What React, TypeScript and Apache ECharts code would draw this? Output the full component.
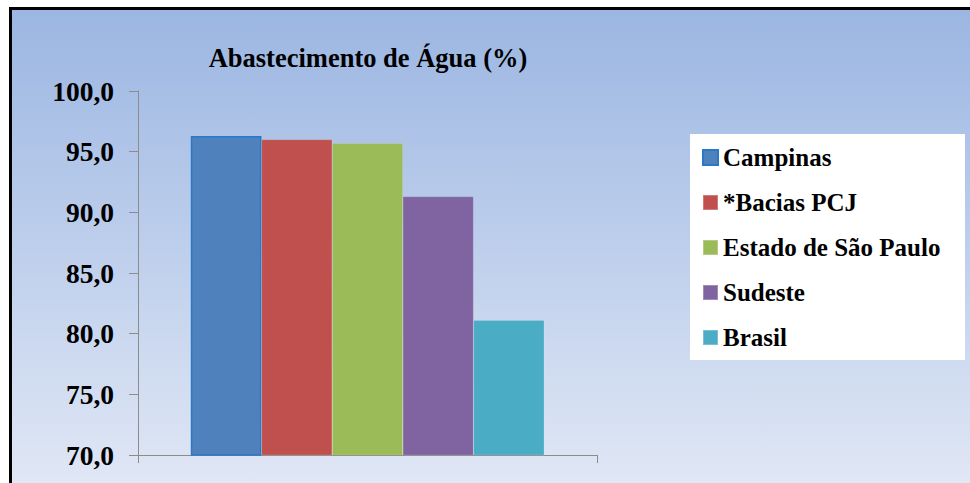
import React, { useEffect, useRef } from "react";
import * as echarts from "echarts";

const categories = ["Abastecimento de Água"];
const seriesNames = ["Campinas", "*Bacias PCJ", "Estado de São Paulo", "Sudeste", "Brasil"];
const seriesValues = [96.3, 96.0, 95.7, 91.3, 81.1];
const seriesColors = ["#4f81bd", "#c0504d", "#9bbb59", "#8064a2", "#4bacc6"];
const yTicks = [70, 75, 80, 85, 90, 95, 100];
const titleText = "Abastecimento de Água (%)";

const FONT = "'Liberation Serif', 'Times New Roman', serif";

export default function App() {
  const ref = useRef<HTMLDivElement>(null);
  useEffect(() => {
    if (!ref.current) return;
    const chart = echarts.init(ref.current, undefined, { renderer: "svg" });
    const yMin = yTicks[0];
    const yMax = yTicks[yTicks.length - 1];
    const interval = yTicks[1] - yTicks[0];
    chart.setOption({
      animation: false,
      backgroundColor: "#ffffff",
      title: {
        text: titleText,
        left: 368,
        top: 44,
        textAlign: "center",
        padding: 0,
        textStyle: { fontFamily: FONT, fontWeight: "bold", fontSize: 26.5, color: "#000" },
      },
      graphic: [
        {
          type: "rect",
          z: -10,
          silent: true,
          shape: { x: 9, y: 8, width: 961, height: 475 },
          style: {
            fill: new echarts.graphic.LinearGradient(0, 0, 0, 1, [
              { offset: 0, color: "#9bb6e2" },
              { offset: 1, color: "#e0e7f5" },
            ]),
          },
        },
        {
          type: "rect",
          z: -9,
          silent: true,
          shape: { x: 9, y: 7, width: 961, height: 3 },
          style: { fill: "#000" },
        },
        {
          type: "rect",
          z: -9,
          silent: true,
          shape: { x: 9, y: 7, width: 3, height: 476 },
          style: { fill: "#000" },
        },
        {
          type: "rect",
          z: -8,
          silent: true,
          shape: { x: 690, y: 134, width: 275, height: 226 },
          style: { fill: "#ffffff" },
        },
      ],
      legend: {
        orient: "vertical",
        left: 702,
        top: 145,
        padding: 0,
        itemGap: 20,
        itemWidth: 15,
        itemHeight: 15,
        icon: "rect",
        data: seriesNames,
        textStyle: { fontFamily: FONT, fontWeight: "bold", fontSize: 25, color: "#000" },
      },
      grid: { left: 138, top: 91, right: 373, bottom: 28, containLabel: false },
      xAxis: {
        type: "category",
        data: categories,
        axisLine: { show: true, lineStyle: { color: "#8c8c8c", width: 1 } },
        axisTick: { show: true, length: 8, lineStyle: { color: "#8c8c8c" } },
        axisLabel: { show: false },
        splitLine: { show: false },
      },
      yAxis: {
        type: "value",
        min: yMin,
        max: yMax,
        interval: interval,
        axisLine: { show: true, lineStyle: { color: "#8c8c8c", width: 1 } },
        axisTick: { show: true, length: 9, lineStyle: { color: "#8c8c8c" } },
        splitLine: { show: false },
        axisLabel: {
          margin: 24,
          fontFamily: FONT,
          fontWeight: "bold",
          fontSize: 27.5,
          color: "#000",
          formatter: (v: number) => v.toFixed(1).replace(".", ","),
        },
      },
      series: seriesNames.map((name, i) => ({
        type: "bar",
        name,
        data: [seriesValues[i]],
        barGap: "0%",
        barCategoryGap: "23%",
        itemStyle: {
          color: seriesColors[i],
          borderColor: i === 0 ? "#2a78c8" : "rgba(255,255,255,0.25)",
          borderWidth: i === 0 ? 1.5 : 0.5,
        },
      })),
    });
    return () => chart.dispose();
  }, []);
  return (
    <div
      ref={ref}
      style={{ position: "absolute", left: 0, top: 0, width: 970, height: 483 }}
    />
  );
}
